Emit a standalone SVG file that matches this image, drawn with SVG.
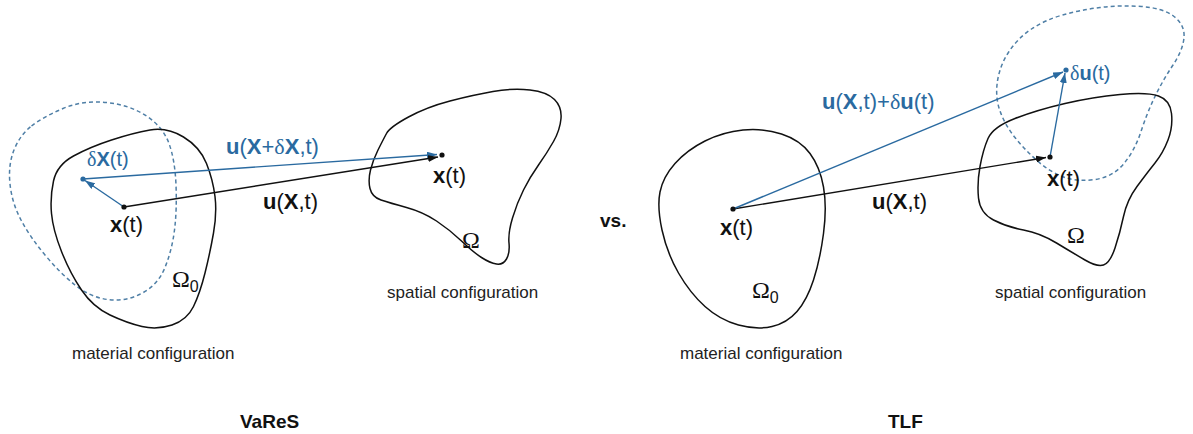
<svg xmlns="http://www.w3.org/2000/svg" width="1193" height="434" viewBox="0 0 1193 434">
<defs>
<marker id="ahK" markerUnits="userSpaceOnUse" markerWidth="10" markerHeight="7" refX="10" refY="3.5" orient="auto"><path d="M0,0 L10,3.5 L0,7 Z" fill="#111"/></marker>
<marker id="ahB" markerUnits="userSpaceOnUse" markerWidth="10" markerHeight="7" refX="10" refY="3.5" orient="auto"><path d="M0,0 L10,3.5 L0,7 Z" fill="#2a6aa0"/></marker>
</defs>
<style>
text{font-family:"Liberation Sans",Arial,sans-serif;fill:#111}
.lbl{font-size:22px}
.blue{fill:#2a6aa0}
.b{font-weight:bold}
.gr{font-family:"Liberation Serif","Times New Roman",serif;font-weight:normal}
.cap{font-size:17px;fill:#222}
.ttl{font-size:19px;font-weight:bold}
.shape{fill:none;stroke:#111;stroke-width:1.5}
.dash{fill:none;stroke:#4f7fa6;stroke-width:1.5;stroke-dasharray:4 3}
.ck{stroke:#111;stroke-width:1.4;fill:none;marker-end:url(#ahK)}
.cb{stroke:#2a6aa0;stroke-width:1.4;fill:none;marker-end:url(#ahB)}
</style>
<rect width="1193" height="434" fill="#fff"/>

<g id="vares-material">
<path class="dash" d="M31.5,126 Q43,117 63,108.5 Q83,100 106.5,102.5 Q130,105 146.5,116 Q163,127 169,143.5 Q175,160 176,185 Q177,210 174.5,230 Q172,250 165,267.5 Q158,285 141.5,293.5 Q125,302 107.5,299.5 Q90,297 75,285 Q60,273 45,255 Q30,237 21,220 Q12,203 10,184 Q8,165 14,150 Q20,135 31.5,126 Z"/>
<path class="shape" d="M150,130 Q167,127 183.5,137 Q200,147 206.5,163.5 Q213,180 215,196.5 Q217,213 213.5,233 Q210,253 205,273 Q200,293 193.5,306.5 Q187,320 172,325 Q157,330 142,326.5 Q127,323 110,315 Q93,307 81.5,290 Q70,273 61.5,251.5 Q53,230 51.5,213.5 Q50,197 53.5,181 Q57,165 73.5,156 Q90,147 111.5,140 Q133,133 150,130 Z"/>
<text class="lbl blue" x="87" y="166" style="font-size:20px"><tspan class="gr blue">δ</tspan><tspan class="b blue">X</tspan>(t)</text>
<text class="lbl" x="110" y="232"><tspan class="b">x</tspan>(t)</text>
<text x="172" y="287" class="gr" style="font-size:24px">Ω<tspan style="font-family:'Liberation Sans',Arial,sans-serif;font-size:16px" dy="5">0</tspan></text>
<text class="cap" x="72" y="359">material configuration</text>
</g>

<g id="vares-spatial">
<path class="shape" d="M386.5,133.5 Q390,127 408.5,117 Q427,107 450,101 Q473,95 493,91.5 Q513,88 530,90 Q547,92 554.5,99.5 Q562,107 561,118.5 Q560,130 553.5,141.5 Q547,153 538.5,165 Q530,177 523.5,190 Q517,203 512.5,218 Q508,233 509,243 Q510,253 506.5,259 Q503,265 496.5,264 Q490,263 481.5,257.5 Q473,252 461.5,241 Q450,230 436.5,221 Q423,212 406.5,207.5 Q390,203 381,200 Q372,197 370,188.5 Q368,180 370.5,170 Q373,160 378,150 Q383,140 386.5,133.5 Z"/>
<text class="lbl" x="433" y="183"><tspan class="b">x</tspan>(t)</text>
<text x="462" y="248" class="gr" style="font-size:24px">Ω</text>
<text class="cap" x="387" y="298">spatial configuration</text>
</g>

<g id="tlf-material">
<path class="shape" d="M743,130 Q763,128 781.5,134 Q800,140 810,153.5 Q820,167 823.5,187 Q827,207 823.5,233.5 Q820,260 813.5,280 Q807,300 797,311.5 Q787,323 772,326.5 Q757,330 738.5,325 Q720,320 705,306.5 Q690,293 678.5,273 Q667,253 662,230 Q657,207 660,192 Q663,177 675,163.5 Q687,150 705,141 Q723,132 743,130 Z"/>
<text class="lbl" x="720" y="235"><tspan class="b">x</tspan>(t)</text>
<text x="752" y="298" class="gr" style="font-size:24px">Ω<tspan style="font-family:'Liberation Sans',Arial,sans-serif;font-size:16px" dy="5">0</tspan></text>
<text class="cap" x="680" y="359">material configuration</text>
</g>

<g id="tlf-spatial">
<path class="dash" d="M997.5,81 Q1000,65 1009,51.5 Q1018,38 1031.5,29 Q1045,20 1062.5,15 Q1080,10 1100,7.5 Q1120,5 1141.5,6.5 Q1163,8 1174,16.5 Q1185,25 1184,37.5 Q1183,50 1173,65 Q1163,80 1155,96.5 Q1147,113 1141,131.5 Q1135,150 1124,163.5 Q1113,177 1095,179.5 Q1077,182 1063.5,177 Q1050,172 1037.5,161 Q1025,150 1015,137.5 Q1005,125 1000,111 Q995,97 997.5,81 Z"/>
<path class="shape" d="M988,138.5 Q993,127 1015,118.5 Q1037,110 1065,103.5 Q1093,97 1120,94.5 Q1147,92 1158.5,96 Q1170,100 1171.5,113.5 Q1173,127 1168,140 Q1163,153 1155,163 Q1147,173 1137,186.5 Q1127,200 1123.5,216.5 Q1120,233 1115,248 Q1110,263 1103.5,265 Q1097,267 1085,260 Q1073,253 1056.5,243 Q1040,233 1023.5,230 Q1007,227 993.5,220 Q980,213 978.5,198 Q977,183 980,166.5 Q983,150 988,138.5 Z"/>
<text class="lbl" x="1047" y="186"><tspan class="b">x</tspan>(t)</text>
<text class="lbl blue" x="1070" y="80" style="font-size:20px"><tspan class="gr blue">δ</tspan><tspan class="b blue">u</tspan>(t)</text>
<text x="1067" y="243" class="gr" style="font-size:24px">Ω</text>
<text class="cap" x="995" y="298">spatial configuration</text>
</g>

<g id="connectors">
<line class="cb" x1="124" y1="207" x2="85" y2="180.5"/>
<line class="cb" x1="83" y1="179" x2="437" y2="154.5"/>
<line class="ck" x1="124" y1="207" x2="438" y2="157"/>
<line class="ck" x1="733" y1="209" x2="1046" y2="157.5"/>
<line class="cb" x1="733" y1="209" x2="1063" y2="72"/>
<line class="cb" x1="1050" y1="157" x2="1065" y2="73"/>
</g>

<g id="points">
<circle cx="124" cy="207" r="2.6" fill="#111"/>
<circle cx="83" cy="179" r="2.6" fill="#2a6aa0"/>
<circle cx="442" cy="155" r="2.6" fill="#111"/>
<circle cx="733" cy="209" r="2.6" fill="#111"/>
<circle cx="1050" cy="157" r="2.6" fill="#111"/>
<circle cx="1066" cy="70" r="2.6" fill="#2a6aa0"/>
</g>

<g id="labels">
<text class="lbl blue" x="226" y="154"><tspan class="b blue">u</tspan>(<tspan class="b blue">X</tspan>+<tspan class="gr blue">δ</tspan><tspan class="b blue">X</tspan>,t)</text>
<text class="lbl" x="263" y="209"><tspan class="b">u</tspan>(<tspan class="b">X</tspan>,t)</text>
<text class="lbl blue" x="822" y="109"><tspan class="b blue">u</tspan>(<tspan class="b blue">X</tspan>,t)+<tspan class="gr blue">δ</tspan><tspan class="b blue">u</tspan>(t)</text>
<text class="lbl" x="872" y="209"><tspan class="b">u</tspan>(<tspan class="b">X</tspan>,t)</text>
<text class="ttl" x="600" y="227">vs.</text>
<text class="ttl" x="240" y="428">VaReS</text>
<text class="ttl" x="888" y="428">TLF</text>
</g>
</svg>
